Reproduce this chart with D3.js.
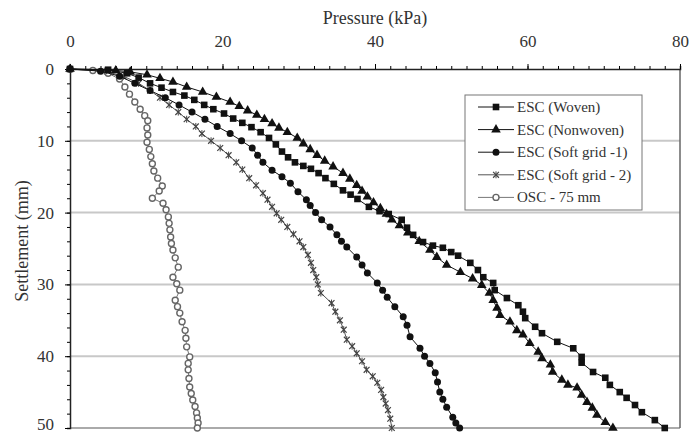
<!DOCTYPE html>
<html lang="en">
<head>
<meta charset="utf-8">
<title>Pressure - Settlement</title>
<script src="https://d3js.org/d3.v7.min.js"></script>
<style>
body { margin: 0; background: #fff; }
svg text { font-family: "Liberation Serif", "DejaVu Serif", serif; fill: #333; }
</style>
</head>
<body>
<div id="chart"></div>
<script>
var width = 692;
var height = 436;

// ticks
var xTicks = [0, 20, 40, 60, 80];
var yTicks = [0, 10, 20, 30, 40, 50];

var seriesNames = ["ESC (Woven)", "ESC (Nonwoven)", "ESC (Soft grid -1)", "ESC (Soft grid - 2)", "OSC - 75 mm"];

// [pressure kPa, settlement mm]
var woven = [[0,0],[5,0.1],[7.5,0.6],[9,1.2],[10.5,2],[12,2.6],[13.5,3.2],[15,3.7],[16.3,4.3],[17.6,5],[18.8,5.6],[20.2,6.2],[21.4,6.9],[22.6,7.5],[23.8,8.1],[25,8.8],[26.1,9.6],[27,10.5],[27.8,11.5],[28.6,12.3],[29.5,13],[30.6,13.5],[31.6,13.9],[32.6,14.5],[33.5,15.2],[34.6,16],[35.8,16.9],[36.8,17.5],[37.7,18.1],[39.2,19.2],[40.6,19.8],[41.8,20.2],[43.5,21],[44.2,22.1],[45,23.1],[46.3,24.1],[47.6,24.6],[48.9,24.9],[50,25.5],[50.9,26],[52.5,27],[53.5,28],[54.2,29],[55.5,29.8],[55.7,30.8],[57.3,31.9],[58.8,32.9],[59.4,33.8],[59.7,34.7],[61,35.9],[61.9,36.8],[63.9,38],[66,38.9],[67.1,40.1],[67.1,40.9],[68.6,42.2],[70.2,43],[70.8,44],[72.1,45],[73,45.8],[74.1,46.8],[75,47.8],[76.7,48.9],[78,50]];

var nonwoven = [[0,0],[6,0.2],[7.9,0.4],[10.1,0.8],[11.8,1.3],[13.5,1.8],[15.3,2.5],[17.4,3.2],[19.2,3.9],[21,4.6],[22.2,5.2],[23.3,5.8],[24.5,6.4],[25.5,7],[26.5,7.6],[27.4,8.2],[28.5,8.8],[29.8,9.6],[30.6,10.4],[31.5,11.2],[32.4,12],[33.4,12.8],[34.5,13.6],[35.8,14.5],[36.7,15.3],[37.6,16.2],[38.3,17],[39,17.8],[39.8,18.6],[40.7,19.4],[41.5,20.2],[42.2,21],[43.2,21.8],[44.3,22.8],[45.8,24],[47.2,25.2],[48.1,26.2],[49.4,27.3],[51.2,28.3],[52.8,29.2],[54,30.1],[55,31.2],[55.5,32.2],[56,33.3],[56.4,34.3],[57.7,35.2],[58.6,36.4],[59.4,37],[60.3,38.2],[61.4,39.4],[61.9,40.3],[63,41.2],[63.3,42.2],[64.5,43.3],[65.3,44],[66.5,44.4],[67.1,45.4],[67.8,46.4],[68.5,47.2],[69.1,48.2],[70.2,49.2],[71.2,50]];

var softGrid1 = [[0,0],[4,0.3],[6.5,1],[8.5,2],[10.5,3],[12.5,4],[14.3,5],[16,6],[17.7,7],[19.3,8],[21,9],[22.5,10],[23.9,11],[24.6,12],[25.3,13],[26.5,14.1],[27.8,15],[28.9,15.9],[29.9,17.1],[31,18.2],[31.5,19],[32.2,20],[33,21],[34.1,22],[35,23.1],[35.6,24],[36.3,24.8],[37.6,26.2],[38.3,27.3],[39,28.4],[40.3,29.8],[41,30.8],[41.6,31.8],[42.6,33.1],[43.7,34.5],[44.2,35.7],[44.6,37.3],[45.9,38.9],[46.5,40],[47.2,41],[47.9,42.3],[48.2,43.6],[48.5,45],[48.9,46],[49.4,47.1],[50.2,48.5],[50.6,49.3],[51.1,50]];

var softGrid2 = [[0,0],[4.5,0.3],[7,1],[9,2],[10.5,3],[11.8,4],[13,5],[14.2,6],[15.3,7],[16.5,8],[17.3,9],[18.5,10],[19.7,11],[20.8,12],[21.8,13],[22.6,14],[23.5,15.2],[24.4,16.2],[25.3,17.3],[25.9,18.2],[26.5,19.2],[27.1,20.1],[27.7,21],[28.5,22],[29.3,23],[30.1,24],[30.6,24.8],[31.2,25.9],[31.6,27],[31.9,28],[32.3,29],[32.5,30],[32.9,31.2],[34.3,32.6],[34.8,33.8],[35.4,35],[35.9,36.3],[36.3,37.7],[37,38.6],[37.6,39.6],[38.3,40.7],[38.9,41.9],[39.7,42.8],[40.3,43.7],[40.8,44.7],[41.1,45.7],[41.4,46.6],[41.7,47.5],[42,48.7],[42.2,50]];

var osc = [[0,0],[3,0.2],[5,0.6],[6.5,1.4],[7.2,2.5],[7.8,3.5],[8.5,4.6],[9.2,5.6],[9.8,6.5],[10.2,7.2],[10.1,8.2],[10.2,9.2],[10.1,10.2],[10.4,11.2],[10.6,12.2],[10.8,13.2],[11,14.2],[11.5,15.2],[12.1,16.3],[11.7,17],[10.8,18],[12.2,18.7],[12.6,19.6],[12.9,20.6],[13,21.5],[13.1,22.4],[13.2,23.4],[13.3,24.3],[13.5,25.2],[13.8,26.3],[14.2,27.6],[13.5,29],[14,29.9],[14.4,30.8],[13.8,32.2],[14.1,33.1],[14.4,34],[14.7,35.2],[15.1,36.4],[15.2,37.5],[15.3,38.7],[15.7,40.1],[15.5,41],[15.5,41.9],[15.6,43.1],[15.7,44.3],[15.9,45.2],[16.1,46.1],[16.4,47],[16.6,47.9],[16.7,48.6],[16.8,49.3],[16.7,50]];

var allSeries = [woven, nonwoven, softGrid1, softGrid2, osc];
var markers = ["square", "triangle", "circle", "star", "open"];
var lineColors = ["#111", "#111", "#111", "#555", "#777"];

var svg = d3.select("#chart").append("svg")
    .attr("width", width)
    .attr("height", height);

var x = d3.scaleLinear().domain([0, 80]).range([70, 680]);
var y = d3.scaleLinear().domain([0, 50]).range([69, 428]);

// horizontal gridlines
svg.selectAll("line.grid")
    .data([10, 20, 30, 40])
    .enter().append("line")
    .attr("class", "grid")
    .attr("x1", x(0)).attr("x2", x(80))
    .attr("y1", d => y(d)).attr("y2", d => y(d))
    .attr("stroke", "#c8c8c8")
    .attr("stroke-width", 2);

// bottom and right frame
svg.append("line")
    .attr("x1", x(0)).attr("x2", x(80))
    .attr("y1", y(50)).attr("y2", y(50))
    .attr("stroke", "#aaa").attr("stroke-width", 2);
svg.append("line")
    .attr("x1", x(80)).attr("x2", x(80))
    .attr("y1", y(0)).attr("y2", y(50))
    .attr("stroke", "#666").attr("stroke-width", 1.5);

// top axis (minor + major)
svg.append("g")
    .attr("transform", "translate(0," + y(0) + ")")
    .call(d3.axisTop(x).tickValues(d3.range(0, 81, 2)).tickSize(3).tickFormat(""))
    .call(g => g.select(".domain").attr("stroke", "#222").attr("stroke-width", 1.5));
svg.append("g")
    .attr("transform", "translate(0," + y(0) + ")")
    .call(d3.axisTop(x).tickValues(xTicks).tickSize(5).tickPadding(17).tickFormat(d3.format("d")))
    .call(g => g.select(".domain").remove())
    .call(g => g.selectAll("text").attr("font-size", 17).attr("font-family", "Liberation Serif").attr("fill", "#333"));

// left axis
svg.append("g")
    .attr("transform", "translate(" + x(0) + ",0)")
    .call(d3.axisLeft(y).tickValues(d3.range(0, 51, 2)).tickSize(3).tickFormat(""))
    .call(g => g.select(".domain").attr("stroke", "#222").attr("stroke-width", 1.5));
svg.append("g")
    .attr("transform", "translate(" + x(0) + ",0)")
    .call(d3.axisLeft(y).tickValues(yTicks).tickSize(5).tickPadding(11).tickFormat(d3.format("d")))
    .call(g => g.select(".domain").remove())
    .call(g => g.selectAll("text").attr("font-size", 17).attr("font-family", "Liberation Serif").attr("fill", "#333"))
    .call(g => g.selectAll("text").filter(d => d === 50).attr("dy", "0.1em"));

// axis titles
svg.append("text")
    .attr("x", 375).attr("y", 24)
    .attr("text-anchor", "middle")
    .attr("font-size", 18)
    .text("Pressure (kPa)");
svg.append("text")
    .attr("transform", "translate(28,241) rotate(-90)")
    .attr("text-anchor", "middle")
    .attr("font-size", 18)
    .text("Settlement (mm)");

function drawMarker(g, type, cx, cy) {
    if (type === "square") {
        g.append("rect").attr("x", cx - 3.3).attr("y", cy - 3.3).attr("width", 6.6).attr("height", 6.6).attr("fill", "#111");
    } else if (type === "triangle") {
        g.append("path").attr("d", d3.symbol(d3.symbolTriangle, 40)()).attr("transform", "translate(" + cx + "," + cy + ")").attr("fill", "#111");
    } else if (type === "circle") {
        g.append("circle").attr("cx", cx).attr("cy", cy).attr("r", 3.5).attr("fill", "#111");
    } else if (type === "star") {
        g.append("path").attr("d", d3.symbol(d3.symbolTimes, 24)()).attr("transform", "translate(" + cx + "," + cy + ")").attr("stroke", "#444").attr("stroke-width", 1.2).attr("fill", "none");
        g.append("path").attr("d", "M0,-3.5V3.5").attr("transform", "translate(" + cx + "," + cy + ")").attr("stroke", "#444").attr("stroke-width", 1);
    } else {
        g.append("circle").attr("cx", cx).attr("cy", cy).attr("r", 3).attr("fill", "#fff").attr("stroke", "#666").attr("stroke-width", 1.4);
    }
}

var line = d3.line().x(d => x(d[0])).y(d => y(d[1]));

// draw series, OSC first so black series sit on top
[4, 3, 2, 1, 0].forEach(function (i) {
    var g = svg.append("g");
    g.append("path")
        .datum(allSeries[i])
        .attr("d", line)
        .attr("fill", "none")
        .attr("stroke", lineColors[i])
        .attr("stroke-width", 1);
    allSeries[i].forEach(function (d) {
        drawMarker(g, markers[i], x(d[0]), y(d[1]));
    });
});

// legend
var lg = svg.append("g");
lg.append("rect")
    .attr("x", 465).attr("y", 95).attr("width", 177).attr("height", 115)
    .attr("fill", "#fff").attr("stroke", "#777").attr("stroke-width", 1);
seriesNames.forEach(function (name, i) {
    var ry = 107 + i * 22.6;
    lg.append("line")
        .attr("x1", 478).attr("x2", 514).attr("y1", ry).attr("y2", ry)
        .attr("stroke", lineColors[i]).attr("stroke-width", 1);
    drawMarker(lg, markers[i], 496, ry);
    lg.append("text")
        .attr("x", 517).attr("y", ry + 5)
        .attr("font-size", 15)
        .text(name);
});
</script>
</body>
</html>
